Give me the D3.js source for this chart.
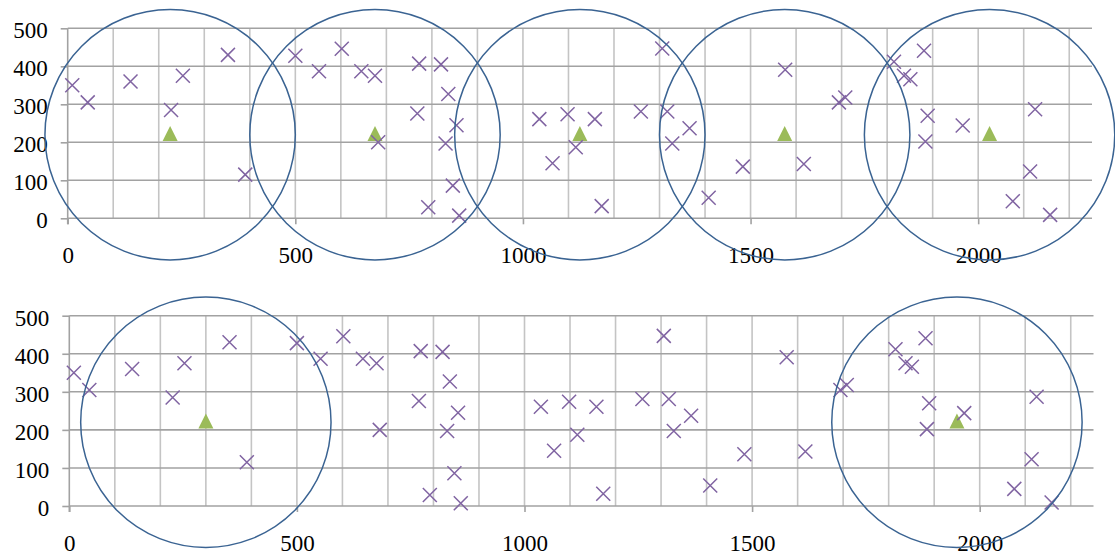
<!DOCTYPE html>
<html>
<head>
<meta charset="utf-8">
<script src="https://cdn.jsdelivr.net/npm/d3@7/dist/d3.min.js"></script>
<style>
  html, body { margin: 0; padding: 0; background: #fff; }
  svg { display: block; }
</style>
</head>
<body>
<svg id="chart" width="1115" height="557"></svg>
<script>
// Sample points (x, y) shown as crosses in both panels
const pointX = [10, 44, 138, 227, 253, 352, 390, 500, 552, 602, 645, 675, 682,
  772, 820, 836, 768, 854, 830, 846, 792, 860,
  1036, 1098, 1158, 1065, 1116, 1173, 1259, 1306, 1317, 1328, 1366, 1408, 1483,
  1576, 1617, 1694, 1708, 1815, 1881, 1837, 1851, 1889, 1884, 1966, 2125, 2114, 2076, 2158];
const pointY = [350, 305, 360, 285, 375, 430, 115, 428, 387, 446, 387, 375, 200,
  407, 405, 327, 276, 245, 197, 86, 29, 7,
  261, 274, 261, 145, 187, 32, 281, 447, 281, 197, 237, 54, 136,
  391, 143, 305, 318, 412, 441, 375, 366, 270, 202, 244, 287, 123, 45, 9];

// Centres (triangles) and coverage radius for each panel
const topCentreX = [225, 675, 1125, 1575, 2025];
const topCentreY = [220, 220, 220, 220, 220];
const bottomCentreX = [300, 1950];
const bottomCentreY = [220, 220];
const coverRadius = 275; // in x-axis units

// Axis ticks
const xDomain = [0, 2250];
const yDomain = [0, 500];
const xGridValues = [0, 100, 200, 300, 400, 500, 600, 700, 800, 900, 1000, 1100,
  1200, 1300, 1400, 1500, 1600, 1700, 1800, 1900, 2000, 2100, 2200];
const xTickLabels = [0, 500, 1000, 1500, 2000];
const yTickLabels = [0, 100, 200, 300, 400, 500];

const svg = d3.select("#chart");
const FONT = '"Liberation Serif", "Times New Roman", serif';

const panels = [
  { x0: 67.7, x1: 1092, yTop: 28.3, yBottom: 218.3, cx: topCentreX, cy: topCentreY },
  { x0: 69.3, x1: 1093.5, yTop: 315.7, yBottom: 506, cx: bottomCentreX, cy: bottomCentreY }
];

panels.forEach(p => {
  const x = d3.scaleLinear().domain(xDomain).range([p.x0, p.x1]);
  const y = d3.scaleLinear().domain(yDomain).range([p.yBottom, p.yTop]);
  const g = svg.append("g");

  // vertical gridlines (lighter)
  g.append("g").selectAll("line").data(xGridValues.filter(v => v > 0)).join("line")
    .attr("x1", d => x(d)).attr("x2", d => x(d))
    .attr("y1", y(500)).attr("y2", y(0))
    .attr("stroke", "#c4c4c4").attr("stroke-width", 1.6);

  // horizontal gridlines (darker)
  g.append("g").selectAll("line").data(yTickLabels).join("line")
    .attr("x1", x(0)).attr("x2", x(2250))
    .attr("y1", d => y(d)).attr("y2", d => y(d))
    .attr("stroke", "#a2a2a2").attr("stroke-width", 1.6);

  // y axis line
  g.append("line")
    .attr("x1", x(0)).attr("x2", x(0))
    .attr("y1", y(500)).attr("y2", y(0) + 6)
    .attr("stroke", "#a2a2a2").attr("stroke-width", 1.6);

  // y axis
  const ya = g.append("g").attr("transform", `translate(${x(0)},0)`)
    .call(d3.axisLeft(y).tickValues(yTickLabels).tickSize(7).tickPadding(13).tickFormat(d3.format("d")));
  ya.select(".domain").remove();
  ya.selectAll(".tick line").attr("stroke", "#a2a2a2").attr("stroke-width", 1.6);
  ya.selectAll("text").style("font-family", FONT).style("font-size", "23px")
    .attr("fill", "#000").attr("dy", "0.41em");

  // x axis
  const xa = g.append("g").attr("transform", `translate(0,${y(0)})`)
    .call(d3.axisBottom(x).tickValues(xTickLabels).tickSize(6).tickPadding(22.7).tickFormat(d3.format("d")));
  xa.select(".domain").remove();
  xa.selectAll(".tick line").attr("stroke", "#a2a2a2").attr("stroke-width", 1.6);
  xa.selectAll("text").style("font-family", FONT).style("font-size", "23px").attr("fill", "#000");

  // centres as green triangles
  g.append("g").selectAll("path").data(p.cx.map((v, i) => [v, p.cy[i]])).join("path")
    .attr("transform", d => `translate(${x(d[0])},${y(d[1])})`)
    .attr("d", "M0,-8.7L7.5,6.3L-7.5,6.3Z")
    .attr("fill", "#9bbb59");

  // sample points as crosses
  const s = 7;
  g.append("g").selectAll("path").data(pointX.map((v, i) => [v, pointY[i]])).join("path")
    .attr("transform", d => `translate(${x(d[0])},${y(d[1])})`)
    .attr("d", `M${-s},${-s}L${s},${s}M${-s},${s}L${s},${-s}`)
    .attr("stroke", "#8064a2").attr("stroke-width", 1.5).attr("fill", "none");

  // coverage circles
  const rPx = x(coverRadius) - x(0);
  g.append("g").selectAll("circle").data(p.cx.map((v, i) => [v, p.cy[i]])).join("circle")
    .attr("cx", d => x(d[0])).attr("cy", d => y(d[1]))
    .attr("r", rPx)
    .attr("fill", "none").attr("stroke", "#3a6392").attr("stroke-width", 1.5);
});
</script>
</body>
</html>
